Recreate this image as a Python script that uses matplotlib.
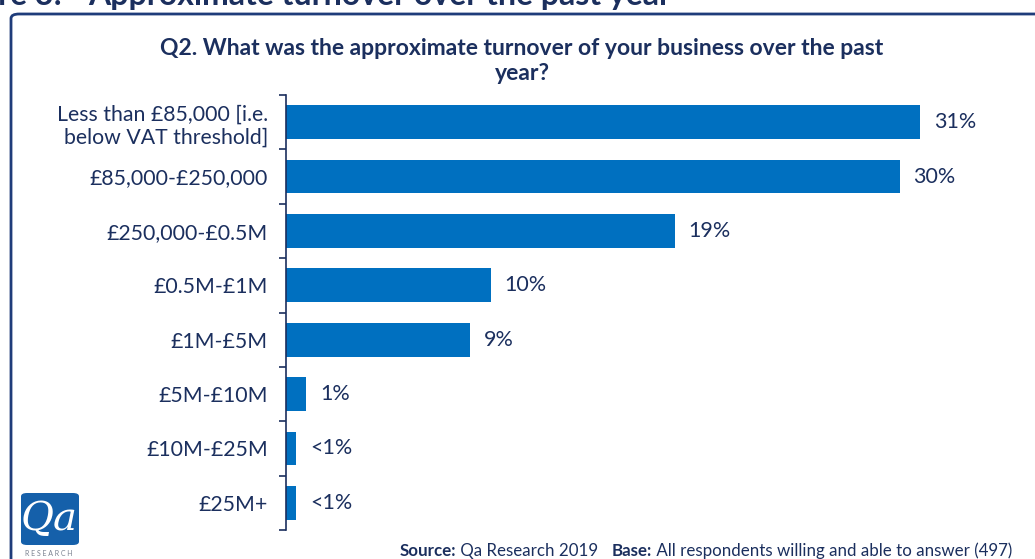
import matplotlib

matplotlib.use("Agg")

import matplotlib.pyplot as plt
from matplotlib.patches import FancyBboxPatch

plt.rcParams["font.family"] = ["Lato", "DejaVu Sans"]

NAVY = "#1B2F5E"
BAR_BLUE = "#0070C0"
FRAME = "#1F3C7A"

categories = [
    "Less than £85,000 [i.e.\nbelow VAT threshold]",
    "£85,000-£250,000",
    "£250,000-£0.5M",
    "£0.5M-£1M",
    "£1M-£5M",
    "£5M-£10M",
    "£10M-£25M",
    "£25M+",
]
shares = [31, 30, 19, 10, 9, 1, 0.5, 0.5]
share_labels = ["31%", "30%", "19%", "10%", "9%", "1%", "<1%", "<1%"]

title = "Q2. What was the approximate turnover of your business over the past\nyear?"
header_num = "Figure 3:"
header_text = "Approximate turnover over the past year"

W, H = 1035, 559
fig = plt.figure(figsize=(W / 100, H / 100), dpi=100)
fig.patch.set_facecolor("white")

# outer rounded frame, running off the right and bottom edges
frame = FancyBboxPatch(
    (11 / W, -0.1), 1.2, (H - 14) / H + 0.1,
    boxstyle="round,pad=0,rounding_size=0.008",
    transform=fig.transFigure, facecolor="none", edgecolor=FRAME, linewidth=2.0,
)
fig.add_artist(frame)

# page header, mostly cut off by the top edge
fig.text(62 / W, 1 - 5 / H, header_num, ha="right", va="baseline",
         fontsize=23, fontweight="bold", color=NAVY)
fig.text(88 / W, 1 - 5 / H, header_text, ha="left", va="baseline",
         fontsize=23, fontweight="bold", color=NAVY)

ax = fig.add_axes([286 / W, 29 / H, 716 / W, 435 / H])
y = list(range(len(categories)))
ax.barh(y, shares, height=0.62, color=BAR_BLUE)
ax.set_xlim(0, 35)
ax.set_ylim(len(categories) - 0.5, -0.5)

for yi, val, lab in zip(y, shares, share_labels):
    ax.annotate(lab, (val, yi), xytext=(10, 0), textcoords="offset points",
                ha="left", va="center", fontsize=15.5, color=NAVY)

# ticks sit on the category boundaries, labels on the bar centres
ax.set_yticks([i - 0.5 for i in range(len(categories) + 1)])
ax.set_yticklabels([])
ax.set_yticks(y, minor=True)
ax.set_yticklabels(categories, minor=True, fontsize=15.3, color=NAVY, linespacing=1.2)
ax.tick_params(axis="y", which="major", length=5, width=1.2, color=NAVY)
ax.tick_params(axis="y", which="minor", length=0, pad=13)
ax.set_xticks([])
for side in ["top", "right", "bottom"]:
    ax.spines[side].set_visible(False)
ax.spines["left"].set_color(NAVY)
ax.spines["left"].set_linewidth(1.2)

fig.text(522 / W, 1 - 61 / H, title, ha="center", va="center",
         fontsize=16.5, fontweight="bold", color=NAVY, linespacing=1.2)

# Qa logo
logo = FancyBboxPatch(
    (21 / W, 1 - 545 / H), 58 / W, 52 / H,
    boxstyle="round,pad=0,rounding_size=0.006",
    transform=fig.transFigure, facecolor="#1560AA", edgecolor="none",
)
fig.add_artist(logo)
fig.text(49 / W, 1 - 519 / H, "Qa", ha="center", va="center", fontsize=29,
         style="italic", color="white", family="DejaVu Serif")
fig.text(49 / W, 1 - 554 / H, "R E S E A R C H", ha="center", va="center",
         fontsize=5, color="#7a8290")

# source line, bold and regular pieces chained left to right
src_y = 1 - 551 / H
t1 = fig.text(400 / W, src_y, "Source:", ha="left", va="center",
              fontsize=12.2, fontweight="bold", color=NAVY)
s2 = plt.annotate(" Qa Research 2019   ", xy=(1, 0.5), xycoords=t1, va="center",
                  ha="left", fontsize=12.2, color=NAVY, annotation_clip=False)
s3 = plt.annotate("Base:", xy=(1, 0.5), xycoords=s2, va="center", ha="left",
                  fontsize=12.2, fontweight="bold", color=NAVY, annotation_clip=False)
plt.annotate(" All respondents willing and able to answer (497)", xy=(1, 0.5),
             xycoords=s3, va="center", ha="left", fontsize=12.2, color=NAVY,
             annotation_clip=False)

fig.savefig("out.png", dpi=100, facecolor="white")
